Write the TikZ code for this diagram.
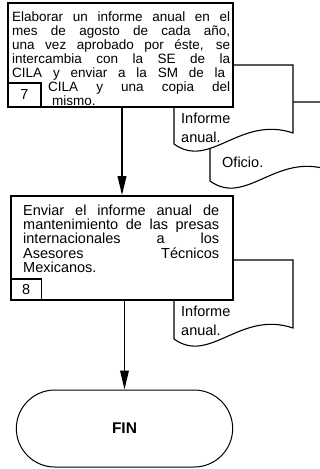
\documentclass[tikz,border=0pt]{standalone}
\usepackage{fontspec}
\setmainfont{Liberation Sans}
\usetikzlibrary{arrows.meta,shapes.misc}
\newcommand{\jline}[2]{\makebox[#1][s]{#2}}
\newcommand{\docsheet}[2]{%
  \draw[docline,shift={(#1,#2)}] (0,0) -- (119,0) -- (119,68)
    .. controls (66,50) and (36,105) .. (0,79) -- cycle;}

\begin{document}
\begin{tikzpicture}[x=1pt,y=-1pt,
  proc/.style={draw,fill=white,line width=1.6pt,inner sep=0pt},
  numbox/.style={proc,font=\fontsize{14.5}{15}\selectfont},
  docline/.style={draw,fill=white,line width=1.1pt},
  body/.style={inner sep=0pt,align=left,anchor=base west},
  flow/.style={line width=1.9pt,-{Triangle[length=19pt,width=8.5pt]}}]
  \useasboundingbox (0,0) rectangle (320,469);
  \clip (0,0) rectangle (320,469);
  \docsheet{210}{102}
  \node[body,font=\fontsize{14.5}{19}\selectfont] (oficio) at (222,167) {Oficio.};
  \docsheet{174}{65}
  \node[body,font=\fontsize{14.5}{19}\selectfont] (informeA) at (181,142) {Informe\\anual.};
  \node[proc,minimum width=225pt,minimum height=104pt] (act7) at (120.5,55) {};
  \node[body,font=\fontsize{13.5}{14}\selectfont] (txt7) at (12,105) {%
    \jline{218pt}{Elaborar un informe anual en el}\\
    \jline{218pt}{mes de agosto de cada año,}\\
    \jline{218pt}{una vez aprobado por éste, se}\\
    \jline{218pt}{intercambia con la SE de la}\\
    \jline{213pt}{CILA y enviar a la SM de la}\\
    \hspace*{36pt}\jline{182pt}{CILA y una copia del}\\
    \hspace*{40pt}mismo.};
  \node[numbox,minimum width=33pt,minimum height=24pt] (n7) at (24.5,95) {7};
  \docsheet{174}{260}
  \node[body,font=\fontsize{14.5}{19}\selectfont] (informeB) at (181,335) {Informe\\anual.};
  \node[proc,minimum width=222pt,minimum height=104pt] (act8) at (122,248) {};
  \node[body,font=\fontsize{14.5}{14.2}\selectfont] (txt8) at (23,272.2) {%
    \jline{196pt}{Enviar el informe anual de}\\
    \jline{196pt}{mantenimiento de las presas}\\
    \jline{196pt}{internacionales a los}\\
    \jline{196pt}{Asesores Técnicos}\\
    Mexicanos.};
  \node[numbox,minimum width=30.5pt,minimum height=21pt] (n8) at (26.25,289.5) {8};
  \node[draw,rounded rectangle,line width=1pt,minimum width=223pt,minimum height=77pt,
    font=\bfseries\fontsize{15.5}{16}\selectfont] (fin) at (124.5,428.5) {FIN};
  \draw[flow] (act8.north |- act7.south) -- (act8.north);
  \draw[flow] (fin.north |- act8.south) -- (fin.north);
\end{tikzpicture}
\end{document}
